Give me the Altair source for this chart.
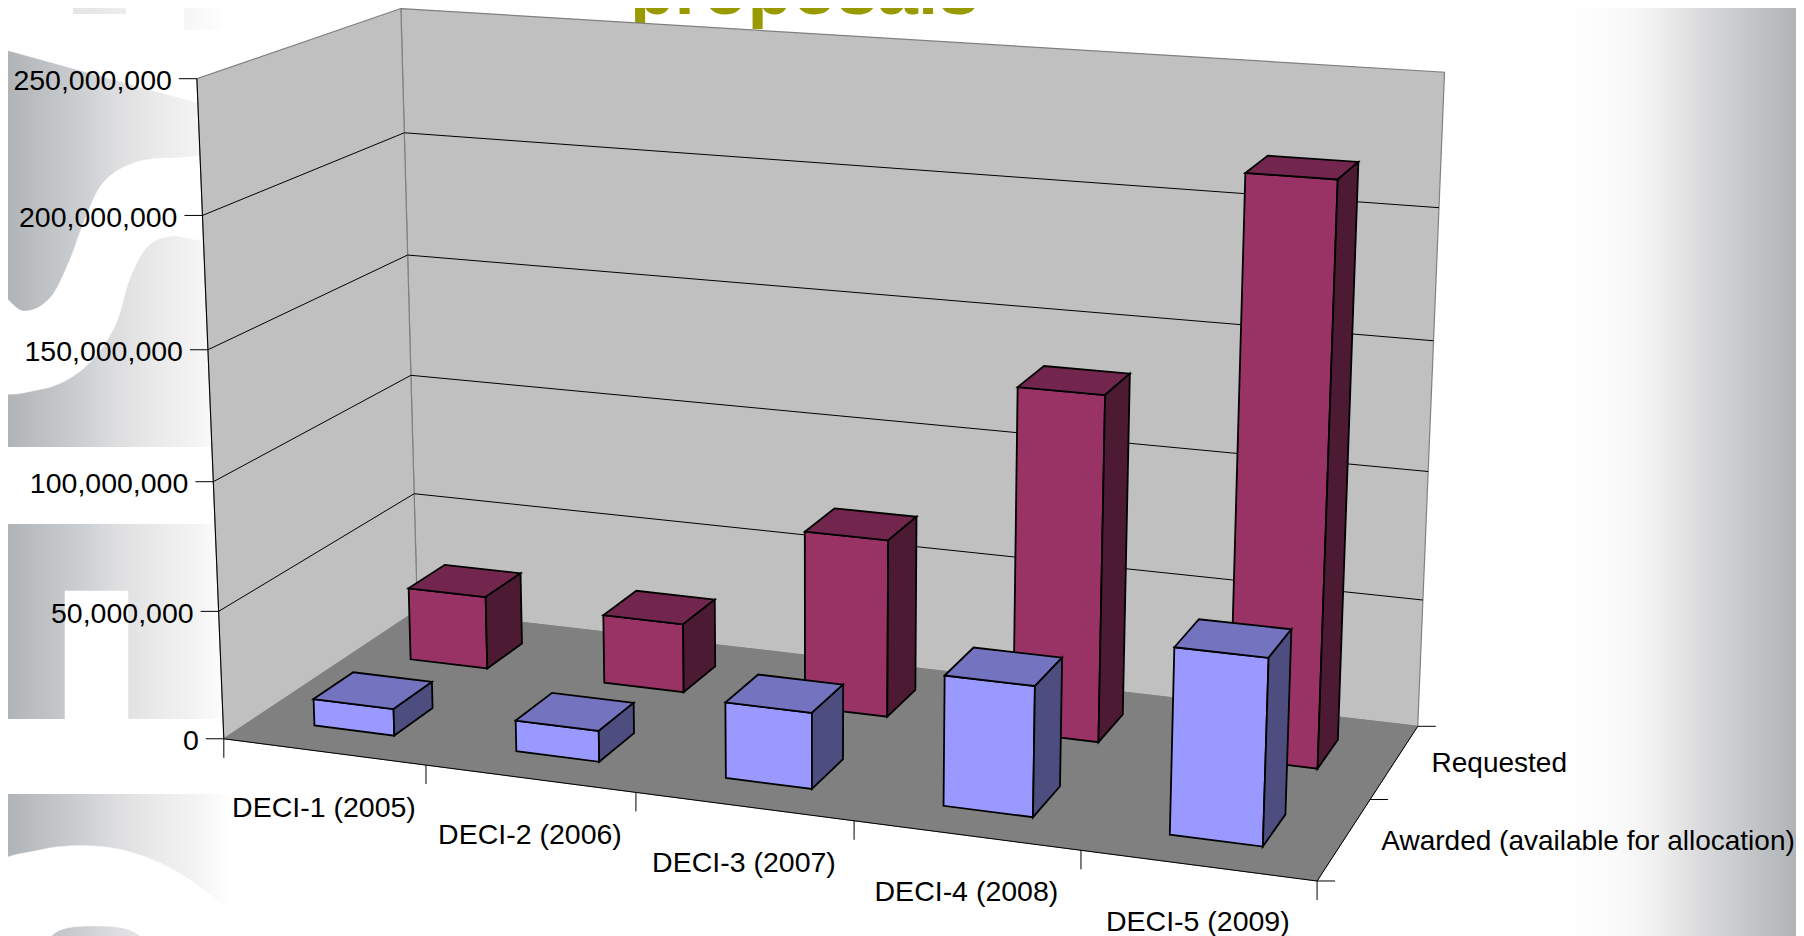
import numpy as np
import pandas as pd
import altair as alt

# ---------- chart values ----------
categories = ["DECI-1 (2005)", "DECI-2 (2006)", "DECI-3 (2007)", "DECI-4 (2008)", "DECI-5 (2009)"]
series = ["Awarded (available for allocation)", "Requested"]
awarded = [10.5e6, 12e6, 29e6, 49e6, 69e6]
requested = [29.5e6, 27.6e6, 70e6, 134e6, 220e6]
value_ticks = [0, 50e6, 100e6, 150e6, 200e6, 250e6]
title_text = "proposals"

FONT = "Liberation Sans"
W, H = 1804, 936
RIGHT = W - 8

# ---------- camera of the 3-D box: (category, value in millions, depth) -> page pixel ----------
CALIB = [
    (0, 250, 0, 197, 78), (0, 200, 0, 203, 215), (0, 150, 0, 208.6, 350), (0, 100, 0, 213, 482),
    (0, 50, 0, 219, 611), (0, 0, 0, 224, 739),
    (0, 250, 2, 400, 8), (0, 200, 2, 404, 133), (0, 150, 2, 407.6, 255), (0, 100, 2, 411, 376),
    (0, 50, 2, 415, 495), (0, 0, 2, 417, 609),
    (5, 250, 2, 1445, 73), (5, 200, 2, 1439, 208), (5, 150, 2, 1433, 342), (5, 100, 2, 1428, 469),
    (5, 50, 2, 1423, 600), (5, 0, 2, 1418, 726),
    (1, 0, 0, 425, 765), (2, 0, 0, 636, 793), (3, 0, 0, 854, 821), (4, 0, 0, 1080, 850),
    (5, 0, 0, 1317, 881), (5, 0, 1, 1371, 800),
]
rows, rhs = [], []
for a, b, c, px, py in CALIB:
    rows.append([a, b, c, 1, 0, 0, 0, 0, -px * a, -px * b, -px * c])
    rhs.append(px)
    rows.append([0, 0, 0, 0, a, b, c, 1, -py * a, -py * b, -py * c])
    rhs.append(py)
sol = np.linalg.lstsq(np.array(rows, float), np.array(rhs, float), rcond=None)[0]
P = np.append(sol, 1.0).reshape(3, 4)


def proj(cat, val, depth):
    p = P @ np.array([cat, val / 1e6, depth, 1.0])
    return p[0] / p[2], p[1] / p[2]


# ---------- polygons ----------
poly = []


def face(points, fill, edge):
    fid = len({r["face"] for r in poly})
    for n, (px, py) in enumerate(points):
        poly.append(dict(face=fid, pt=n, x=px, y=py, fill=fill, edge=edge))


TOP = value_ticks[-1]
face([proj(0, 0, 2), proj(0, TOP, 2), proj(5, TOP, 2), proj(5, 0, 2)], "#C0C0C0", "#808080")
face([proj(0, 0, 0), proj(0, TOP, 0), proj(0, TOP, 2), proj(0, 0, 2)], "#C0C0C0", "#808080")

seg = []


def line(a, b):
    seg.append(dict(x=a[0], y=a[1], x2=b[0], y2=b[1]))


for v in value_ticks[1:-1]:
    line(proj(0, v, 0), proj(0, v, 2))
    line(proj(0, v, 2), proj(5, v, 2))
line(proj(0, 0, 0), proj(0, TOP, 0))

GAP = 0.3
BAR_EDGE = "#000000"
PALETTE = {
    0: ("#9999FF", "#7373BF", "#4D4D80"),
    1: ("#993366", "#73264D", "#4D1A33"),
}
floor_poly = [proj(0, 0, 0), proj(0, 0, 2), proj(5, 0, 2), proj(5, 0, 0)]
bars = []


def barface(points, fill):
    fid = len({r["face"] for r in bars})
    for n, (px, py) in enumerate(points):
        bars.append(dict(face=fid, pt=n, x=px, y=py, fill=fill, edge=BAR_EDGE))


for s, vals in ((1, requested), (0, awarded)):
    col = PALETTE[s]
    for i, v in enumerate(vals):
        x0, x1, d0, d1 = i + GAP, i + 1 - GAP, s + GAP, s + 1 - GAP
        barface([proj(x0, 0, d0), proj(x0, v, d0), proj(x1, v, d0), proj(x1, 0, d0)], col[0])
        barface([proj(x0, v, d0), proj(x0, v, d1), proj(x1, v, d1), proj(x1, v, d0)], col[1])
        barface([proj(x1, 0, d0), proj(x1, v, d0), proj(x1, v, d1), proj(x1, 0, d1)], col[2])

floor_df = pd.DataFrame([dict(face=0, pt=n, x=p[0], y=p[1]) for n, p in enumerate(floor_poly)])

# outline of the floor and the ticks
line2 = []
line2.append((proj(0, 0, 0), proj(5, 0, 0)))
line2.append((proj(5, 0, 0), proj(5, 0, 2)))
for i in range(6):
    a = proj(i, 0, 0)
    line2.append((a, (a[0], a[1] + 19)))
for d in (0, 1, 2):
    a = proj(5, 0, d)
    line2.append((a, (a[0] + 18, a[1])))
for v in value_ticks:
    a = proj(0, v, 0)
    line2.append((a, (a[0] - 18, a[1])))
outline = pd.DataFrame([dict(x=a[0], y=a[1], x2=b[0], y2=b[1]) for a, b in line2])

# texts
TEXT_DY = 2.5
labels = []
for v in value_ticks:
    a = proj(0, v, 0)
    labels.append(dict(x=a[0] - 25, y=a[1] + TEXT_DY, t=f"{int(v):,}", align="right"))
for i, c in enumerate(categories):
    a = proj(i + 0.5, 0, 0)
    labels.append(dict(x=a[0], y=a[1] + 54 + TEXT_DY, t=c, align="center"))
for s, name in enumerate(series):
    a = proj(5, 0, s + 0.5)
    labels.append(dict(x=a[0] + 37, y=a[1] + TEXT_DY, t=name, align="left"))
lab_df = pd.DataFrame(labels)

# ---------- layers ----------
X = alt.X("x:Q", scale=alt.Scale(domain=[8, RIGHT], nice=False, zero=False), axis=None)
Y = alt.Y("y:Q", scale=alt.Scale(domain=[H, 8], nice=False, zero=False), axis=None)


def stops(pairs):
    return alt.Gradient(
        gradient="linear", x1=0, x2=1, y1=0, y2=0,
        stops=[alt.GradientStop(offset=o, color=c) for o, c in pairs],
    )


left_grad = stops([(0, "#AEB1B4"), (0.4, "#D0D3D6"), (0.5, "#DDDDDF"), (0.65, "#E8E8E8"),
                   (0.85, "#F3F3F3"), (1, "#FFFFFF")])
right_grad = stops([(0, "#FFFFFF"), (0.25, "#F9F9F9"), (0.4, "#EEEEEE"), (0.55, "#DCDCDE"),
                    (0.65, "#D0D3D6"), (0.85, "#BCBFC2"), (1, "#AEB1B4")])


def band(x0, x1, y0, y1, grad):
    d = pd.DataFrame([dict(x=x0, x2=x1, y=y0, y2=y1)])
    return alt.Chart(d).mark_rect(fill=grad).encode(X, alt.X2("x2:Q"), Y, alt.Y2("y2:Q"))


bg = [
    band(1566, W, 0, H, right_grad),
    band(0, 230, 47, 447, left_grad),
    band(0, 230, 524, 719, left_grad),
    band(0, 230, 794, H, left_grad),
]

# white cut-outs that leave the faint watermark lettering
straight = [
    [(-5, 40), (235, 40), (235, 113), (-5, 47)],
    [(65, 591), (128, 591), (128, 722), (65, 722)],
]
curved = [
    [(-10, 292), (23, 311), (50, 298), (69, 262), (84, 222), (103, 183), (134, 163), (175, 158), (240, 162),
     (240, 240), (199, 240), (172, 236), (148, 246), (130, 278), (114, 328), (84, 368), (42, 389), (-10, 385)],
    [(-10, 872), (40, 850), (92, 846), (140, 855), (190, 880), (240, 925), (240, 960), (165, 950),
     (130, 930), (95, 926), (60, 930), (35, 950), (-10, 960)],
]


def cut(shapes, interp):
    d = pd.DataFrame([dict(face=k, pt=n, x=p[0], y=p[1]) for k, s in enumerate(shapes) for n, p in enumerate(s)])
    return alt.Chart(d).mark_line(interpolate=interp, fill="#FFFFFF", stroke="#FFFFFF", strokeWidth=0.5).encode(
        X, Y, order="pt:Q", detail="face:N")


wm_layers = [cut(straight, "linear-closed"), cut(curved, "cardinal-closed")]
faint = [band(73, 126, 8, 14, stops([(0, "#E4E4E4"), (1, "#EDEDED")])),
         band(184, 230, 8, 30, stops([(0, "#F6F6F6"), (1, "#FFFFFF")]))]


def polys(df, sw):
    return alt.Chart(df).mark_line(interpolate="linear-closed", strokeWidth=sw, strokeJoin="miter").encode(
        X, Y,
        order=alt.Order("pt:Q"),
        detail="face:N",
        fill=alt.Fill("fill:N", scale=None),
        stroke=alt.Stroke("edge:N", scale=None),
    )


walls = polys(pd.DataFrame(poly), 1.2)
grid = alt.Chart(pd.DataFrame(seg)).mark_rule(stroke="#000000", strokeWidth=1).encode(
    X, alt.X2("x2:Q"), Y, alt.Y2("y2:Q"))
floor = alt.Chart(floor_df).mark_line(interpolate="linear-closed", fill="#808080", stroke="#808080", strokeWidth=1).encode(
    X, Y, order="pt:Q", detail="face:N")
out = alt.Chart(outline).mark_rule(stroke="#000000", strokeWidth=1).encode(
    X, alt.X2("x2:Q"), Y, alt.Y2("y2:Q"))
bar_layer = polys(pd.DataFrame(bars), 1.8)


def text_layer(align, size=28.5):
    return alt.Chart(lab_df[lab_df["align"] == align]).mark_text(
        font=FONT, fontSize=size, align=align, baseline="middle", color="#000000"
    ).encode(X, Y, text="t:N")


title_df = pd.DataFrame([dict(x=630, y=14, t=title_text)])
title = alt.Chart(title_df).mark_text(
    font=FONT, fontSize=73, fontWeight="bold", align="left", baseline="alphabetic", color="#999900"
).encode(X, Y, text="t:N")

chart = alt.layer(
    *bg, *wm_layers, *faint, title, walls, grid, floor, out, bar_layer,
    text_layer("right"), text_layer("center"), text_layer("left", 28),
).properties(
    width=RIGHT - 8, height=H - 8, padding=0, autosize=alt.AutoSizeParams(type="none"), background="#FFFFFF"
).configure_view(stroke=None)

chart.save("out.html", embed_options={"renderer": "svg", "actions": False})
